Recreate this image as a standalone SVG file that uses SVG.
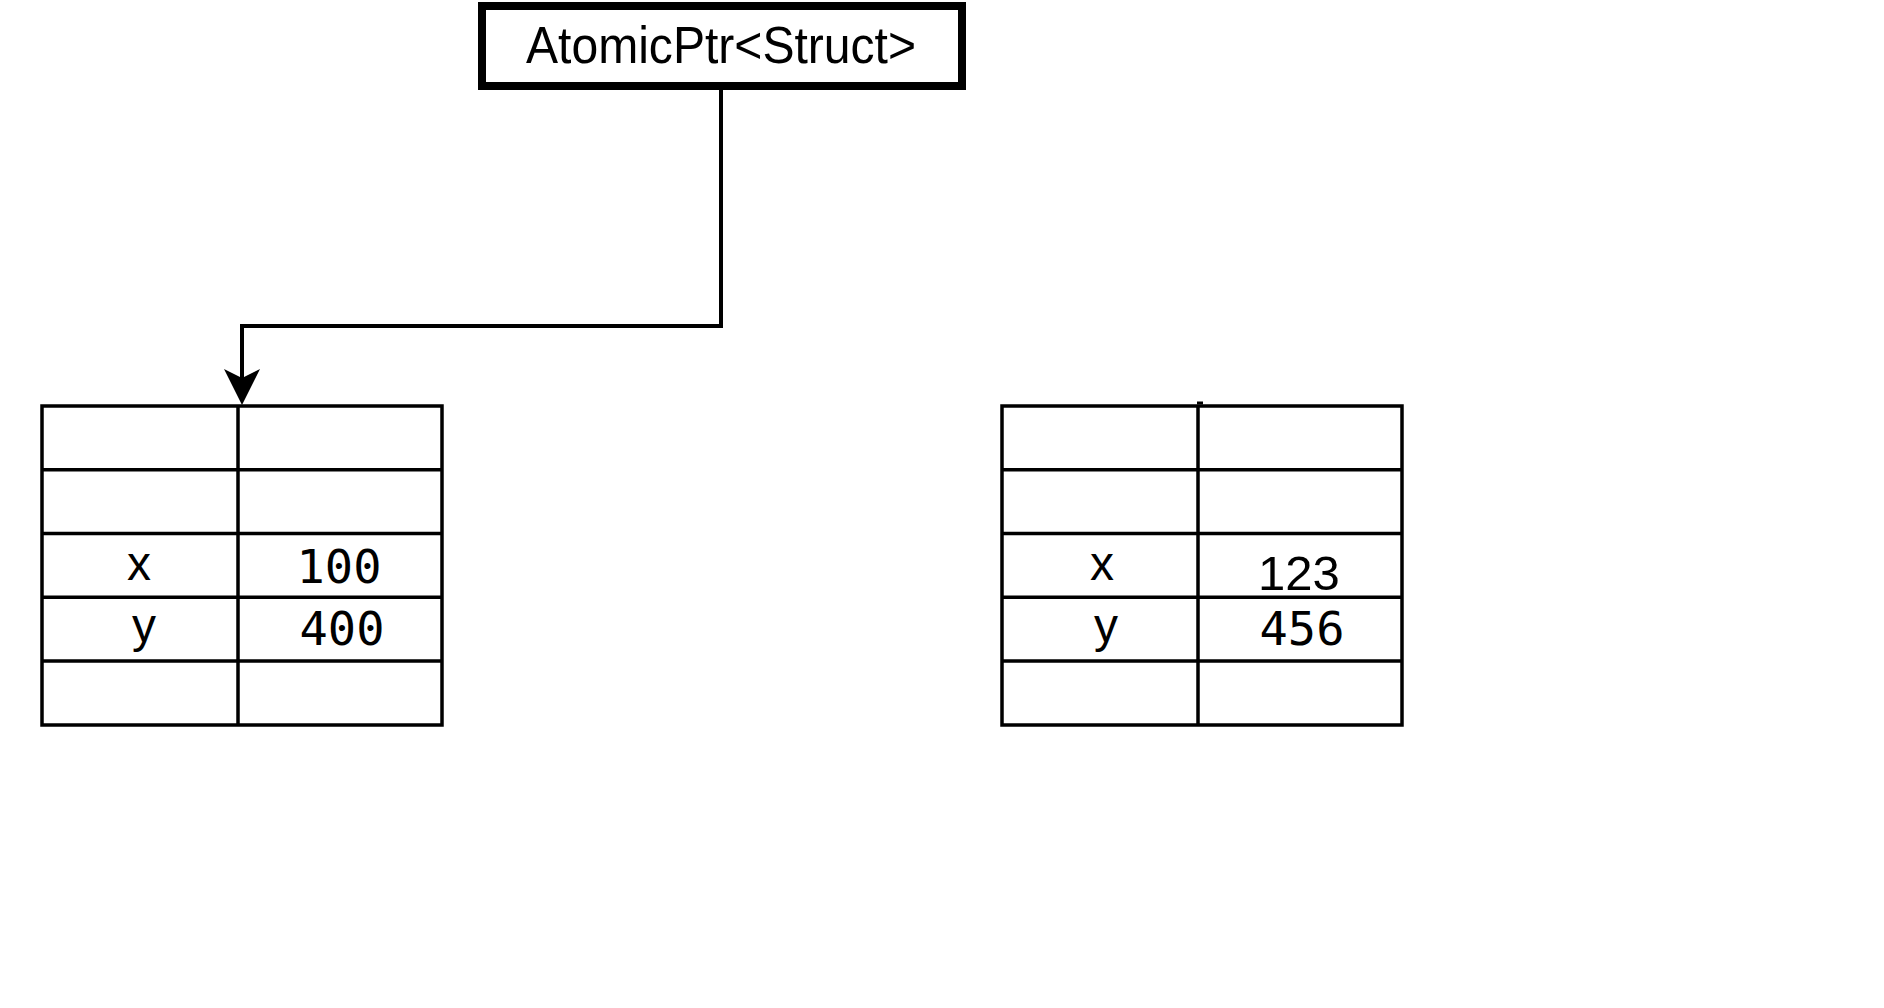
<svg xmlns="http://www.w3.org/2000/svg" width="1884" height="1008" viewBox="0 0 1884 1008">
<style>
.box{fill:#fff;stroke:#000;stroke-width:8}
.grid{fill:none;stroke:#000;stroke-width:3.5}
.conn{fill:none;stroke:#000;stroke-width:4}
.sans{font-family:"Liberation Sans",Arial,Helvetica,sans-serif;fill:#000}
.mono{font-family:"DejaVu Sans Mono","Liberation Mono",monospace;fill:#000}
</style>
<rect width="1884" height="1008" fill="#fff"/>
<g id="atomicptr">
<rect class="box" x="482" y="6" width="480" height="80"/>
<text class="sans" x="721" y="63" font-size="52" text-anchor="middle" textLength="390" lengthAdjust="spacingAndGlyphs">AtomicPtr&lt;Struct&gt;</text>
</g>
<g id="struct-old">
<rect class="grid" x="42" y="406" width="400" height="319"/>
<path class="grid" d="M238,406V725M42,469.8H442M42,533.5H442M42,597.2H442M42,661H442"/>
<text class="sans" x="139" y="580" font-size="48" text-anchor="middle">x</text>
<text class="mono" x="339" y="583" font-size="47" text-anchor="middle">100</text>
<text class="sans" x="144" y="642" font-size="48" text-anchor="middle">y</text>
<text class="mono" x="342" y="645" font-size="47" text-anchor="middle">400</text>
</g>
<g id="struct-new">
<rect class="grid" x="1002" y="406" width="400" height="319"/>
<path class="grid" d="M1198,406V725M1002,469.8H1402M1002,533.5H1402M1002,597.2H1402M1002,661H1402"/>
<rect x="1197" y="401.5" width="6" height="3" fill="#000"/>
<text class="sans" x="1102" y="580" font-size="48" text-anchor="middle">x</text>
<text class="sans" x="1299" y="590" font-size="49" text-anchor="middle">123</text>
<text class="sans" x="1106" y="642" font-size="48" text-anchor="middle">y</text>
<text class="mono" x="1302" y="645" font-size="47" text-anchor="middle">456</text>
</g>
<g id="connectors">
<path class="conn" d="M721,90V326H242V380"/>
<path d="M242,405L224,369L242,378L260,369Z" fill="#000"/>
</g>
</svg>
